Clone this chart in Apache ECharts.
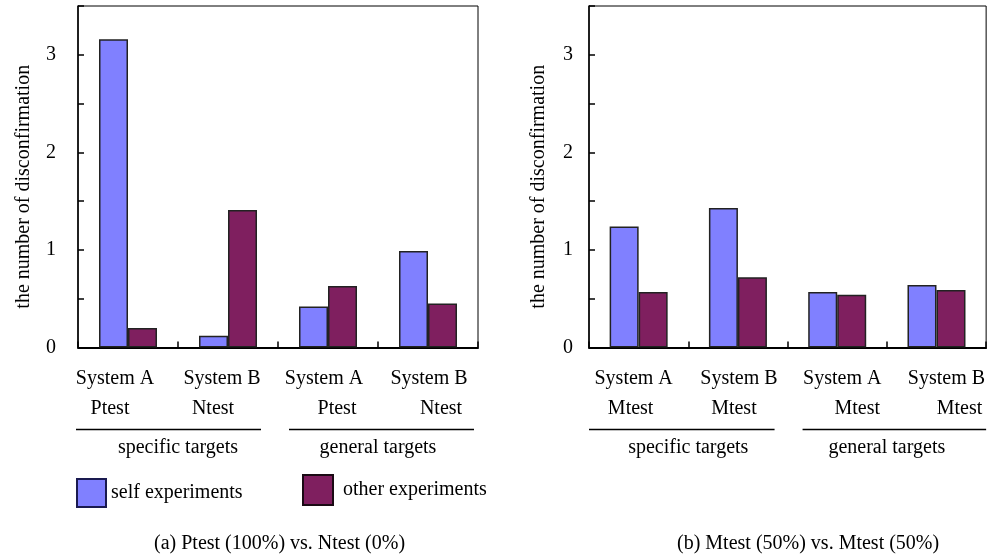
<!DOCTYPE html>
<html>
<head>
<meta charset="utf-8">
<script src="https://cdn.jsdelivr.net/npm/echarts@6/dist/echarts.min.js"></script>
<style>html,body{margin:0;padding:0;background:#fff}#c{width:988px;height:554px}</style>
</head>
<body>
<div id="c"></div>
<script>
// ---- data ----
var systems = ['System A', 'System B', 'System A', 'System B'];
var testsLeft = ['Ptest', 'Ntest', 'Ptest', 'Ntest'];
var testsRight = ['Mtest', 'Mtest', 'Mtest', 'Mtest'];
var groups = ['specific targets', 'general targets'];
var seriesNames = ['self experiments', 'other experiments'];
var selfLeft = [3.16, 0.12, 0.42, 0.99];
var otherLeft = [0.20, 1.41, 0.63, 0.45];
var selfRight = [1.24, 1.43, 0.57, 0.64];
var otherRight = [0.57, 0.72, 0.54, 0.59];
var yTicks = ['0', '1', '2', '3'];
var captions = ['(a) Ptest (100%) vs. Ntest (0%)', '(b) Mtest (50%) vs. Mtest (50%)'];
var yTitle = 'the number of disconfirmation';

var FONT = '"Liberation Serif", "Times New Roman", serif';
var BLUE = '#8080ff', PURPLE = '#7f1f5f';

// horizontal label shifts (px) of each line relative to the category centre
var shiftLeft = {sys: [-13, -6, -4, 1], test: [-18, -15, 9, 13]};
var shiftRight = {sys: [-5, 1, 5, 10], test: [-8, -4, 20, 23]};

var chart = echarts.init(document.getElementById('c'));

function richFor(shift) {
  var r = {};
  for (var i = 0; i < 4; i++) {
    ['sys', 'test'].forEach(function (k) {
      var d = shift[k][i];
      r[k + i] = {
        fontFamily: FONT, fontSize: 20, lineHeight: 30, color: '#000',
        padding: d >= 0 ? [0, 0, 0, 2 * d] : [0, -2 * d, 0, 0]
      };
    });
  }
  return r;
}

function catAxis(gi, tests, shift) {
  return {
    type: 'category', gridIndex: gi, data: [0, 1, 2, 3], position: 'bottom',
    axisLine: {show: true, lineStyle: {color: '#000', width: 2}},
    axisTick: {show: true, inside: true, length: 6, interval: 0, lineStyle: {color: '#000', width: 1.5}},
    axisLabel: {
      interval: 0, margin: 16, color: '#000', fontFamily: FONT, fontSize: 20, lineHeight: 30,
      formatter: function (v, i) { return '{sys' + i + '|' + systems[i] + '}\n{test' + i + '|' + tests[i] + '}'; },
      rich: richFor(shift)
    },
    splitLine: {show: false}
  };
}
function groupAxis(gi) {
  return {
    type: 'category', gridIndex: gi, data: groups, position: 'bottom', offset: 80,
    axisLine: {show: false}, axisTick: {show: false},
    axisLabel: {interval: 0, margin: 10, color: '#000', fontFamily: FONT, fontSize: 20}
  };
}
function valAxis(gi, margin, gap) {
  return {
    type: 'value', gridIndex: gi, min: 0, max: 3.5, interval: 0.5,
    name: yTitle, nameLocation: 'middle', nameGap: gap,
    nameTextStyle: {color: '#000', fontFamily: FONT, fontSize: 20, padding: [0, 0, 0, -20]},
    axisLine: {show: true, lineStyle: {color: '#000', width: 1.5}},
    axisTick: {show: true, inside: true, length: 6, lineStyle: {color: '#000', width: 1.5}},
    axisLabel: {
      margin: margin, color: '#000', fontFamily: FONT, fontSize: 20,
      formatter: function (v) { return (Math.abs(v - Math.round(v)) < 1e-6) ? yTicks[Math.round(v)] : ''; }
    },
    splitLine: {show: false}
  };
}
function bar(name, data, color, gi) {
  return {
    type: 'bar', name: name, data: data, xAxisIndex: gi * 2, yAxisIndex: gi,
    barWidth: 29, barGap: '0%',
    itemStyle: {color: color, borderColor: '#222', borderWidth: 1.5},
    emphasis: {disabled: true}
  };
}

chart.setOption({
  animation: false,
  textStyle: {fontFamily: FONT},
  grid: [
    {left: 78, top: 6, width: 400, height: 341.5, show: true, borderColor: '#000', borderWidth: 1, backgroundColor: 'transparent'},
    {left: 589, top: 6, width: 398, height: 341.5, show: true, borderColor: '#000', borderWidth: 1, backgroundColor: 'transparent'}
  ],
  xAxis: [catAxis(0, testsLeft, shiftLeft), groupAxis(0), catAxis(1, testsRight, shiftRight), groupAxis(1)],
  yAxis: [valAxis(0, 22, 44), valAxis(1, 16, 40)],
  legend: [
    {left: 71, top: 473, itemWidth: 29, itemHeight: 28, icon: 'rect', data: [seriesNames[0]], selectedMode: false,
     itemStyle: {borderColor: '#1a1a50', borderWidth: 2},
     textStyle: {color: '#000', fontFamily: FONT, fontSize: 20}},
    {left: 297, top: 469, itemWidth: 30, itemHeight: 30, icon: 'rect', data: [seriesNames[1]], selectedMode: false,
     itemStyle: {borderColor: '#1a0a14', borderWidth: 2},
     textStyle: {color: '#000', fontFamily: FONT, fontSize: 20, padding: [0, 0, 0, 5]}}
  ],
  title: [
    {text: captions[0], left: 149, top: 529, textStyle: {color: '#000', fontFamily: FONT, fontSize: 20, fontWeight: 'normal'}},
    {text: captions[1], left: 672, top: 529, textStyle: {color: '#000', fontFamily: FONT, fontSize: 20, fontWeight: 'normal'}}
  ],
  series: [
    bar(seriesNames[0], selfLeft, BLUE, 0),
    bar(seriesNames[1], otherLeft, PURPLE, 0),
    bar(seriesNames[0], selfRight, BLUE, 1),
    bar(seriesNames[1], otherRight, PURPLE, 1)
  ]
});

// separator lines under category groups, placed from axis pixel positions
function sepLines(axisIdx, insets) {
  var c0 = chart.convertToPixel({xAxisIndex: axisIdx}, 0);
  var c1 = chart.convertToPixel({xAxisIndex: axisIdx}, 1);
  var band = c1 - c0;
  var b0 = c0 - band / 2, b2 = b0 + 2 * band, b4 = b0 + 4 * band;
  var y = chart.convertToPixel({yAxisIndex: axisIdx / 2}, 0) + 82;
  return [
    {type: 'line', shape: {x1: b0 + insets[0], y1: y, x2: b2 + insets[1], y2: y}, style: {stroke: '#000', lineWidth: 1.5}},
    {type: 'line', shape: {x1: b2 + insets[2], y1: y, x2: b4 + insets[3], y2: y}, style: {stroke: '#000', lineWidth: 1.5}}
  ];
}
chart.setOption({graphic: sepLines(0, [-2, -17, 11, -4]).concat(sepLines(2, [0, -13, 15, 0]))});
</script>
</body>
</html>
